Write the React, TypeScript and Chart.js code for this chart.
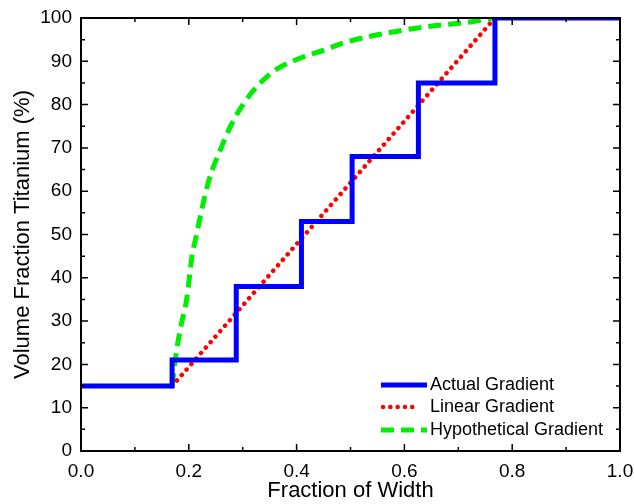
import React, { useEffect, useRef } from "react";
import { Chart, registerables } from "chart.js";

Chart.register(...registerables);

const actualX = [0, 0.169, 0.288, 0.409, 0.503, 0.626, 0.768, 1.0];
const actualY = [15, 21, 38, 53, 68, 85, 100, 100];

const linearX = [0.169, 0.768];
const linearY = [15, 100];

const hypoX = [0.169, 0.176, 0.184, 0.196, 0.206, 0.215, 0.221, 0.2375, 0.261, 0.283, 0.306, 0.335, 0.366, 0.406, 0.451, 0.488, 0.575, 0.643, 0.729, 0.768];
const hypoY = [15, 22, 28, 35, 45, 50.3, 54, 62.6, 70.3, 76.4, 81, 85.3, 88.4, 90.7, 92.6, 94.3, 96.7, 98, 99.2, 100];

const seriesLabels = ["Actual Gradient", "Linear Gradient", "Hypothetical Gradient"];
const xTicks = [0, 0.2, 0.4, 0.6, 0.8, 1.0];
const yTicks = [0, 10, 20, 30, 40, 50, 60, 70, 80, 90, 100];

const FONT = "'Liberation Sans', Arial, sans-serif";

const toPts = (xs: number[], ys: number[]) => xs.map((x, i) => ({ x, y: ys[i] }));

const frameTicks = {
  id: "frameTicks",
  afterDatasetsDraw(chart: any) {
    const { ctx, chartArea: a, scales } = chart;
    const xs = scales.x;
    const ys = scales.y;
    ctx.save();
    ctx.strokeStyle = "#000";
    ctx.lineWidth = 2;
    ctx.lineCap = "butt";
    ctx.strokeRect(a.left, a.top, a.right - a.left, a.bottom - a.top);
    ctx.lineWidth = 1.5;
    for (let i = 0; i < xTicks.length; i++) {
      const v = xTicks[i];
      const px = xs.getPixelForValue(v);
      ctx.beginPath();
      ctx.moveTo(px, a.bottom); ctx.lineTo(px, a.bottom - 7);
      ctx.moveTo(px, a.top); ctx.lineTo(px, a.top + 7);
      ctx.stroke();
      if (i < xTicks.length - 1) {
        const m = xs.getPixelForValue((v + xTicks[i + 1]) / 2);
        ctx.beginPath();
        ctx.moveTo(m, a.bottom); ctx.lineTo(m, a.bottom - 4);
        ctx.moveTo(m, a.top); ctx.lineTo(m, a.top + 4);
        ctx.stroke();
      }
    }
    for (let i = 0; i < yTicks.length; i++) {
      const v = yTicks[i];
      const py = ys.getPixelForValue(v);
      ctx.beginPath();
      ctx.moveTo(a.left, py); ctx.lineTo(a.left + 7, py);
      ctx.moveTo(a.right, py); ctx.lineTo(a.right - 7, py);
      ctx.stroke();
      if (i < yTicks.length - 1) {
        const m = ys.getPixelForValue((v + yTicks[i + 1]) / 2);
        ctx.beginPath();
        ctx.moveTo(a.left, m); ctx.lineTo(a.left + 4, m);
        ctx.moveTo(a.right, m); ctx.lineTo(a.right - 4, m);
        ctx.stroke();
      }
    }
    const rows = [a.bottom - 66, a.bottom - 44, a.bottom - 21];
    const x0 = a.right - 239;
    const x1 = a.right - 193;
    chart.data.datasets.forEach((ds: any, i: number) => {
      const y = rows[i];
      ctx.save();
      ctx.strokeStyle = ds.borderColor;
      ctx.lineWidth = ds.borderWidth;
      ctx.lineCap = ds.borderCapStyle || "butt";
      ctx.setLineDash(ds.borderDash || []);
      ctx.beginPath();
      if (i === 1) {
        ctx.moveTo(x0 + 2, y); ctx.lineTo(x1 - 10, y);
      } else {
        ctx.moveTo(x0, y); ctx.lineTo(x1, y);
      }
      ctx.stroke();
      ctx.restore();
      ctx.fillStyle = "#000";
      ctx.font = `18px ${FONT}`;
      ctx.textBaseline = "middle";
      ctx.textAlign = "left";
      ctx.fillText(ds.label, x1 + 3, y);
    });
    ctx.restore();
  },
};

export default function App() {
  const ref = useRef<HTMLCanvasElement>(null);
  useEffect(() => {
    document.body.style.margin = "0";
    const chart = new Chart(ref.current as HTMLCanvasElement, {
      type: "line",
      data: {
        datasets: [
          {
            label: seriesLabels[0],
            data: toPts(actualX, actualY),
            borderColor: "#0000ff",
            borderWidth: 5,
            stepped: "before",
            pointRadius: 0,
            fill: false,
            borderJoinStyle: "miter",
          },
          {
            label: seriesLabels[1],
            data: toPts(linearX, linearY),
            borderColor: "#ff0000",
            borderWidth: 4.5,
            borderDash: [0.1, 7.2],
            borderCapStyle: "round",
            pointRadius: 0,
            fill: false,
          },
          {
            label: seriesLabels[2],
            data: toPts(hypoX, hypoY),
            borderColor: "#00ee00",
            borderWidth: 5,
            borderDash: [13, 7],
            cubicInterpolationMode: "monotone",
            pointRadius: 0,
            fill: false,
          },
        ] as any,
      },
      options: {
        animation: false,
        responsive: false,
        maintainAspectRatio: false,
        layout: { padding: { top: 0, right: 0, left: 0, bottom: 0 } },
        plugins: { legend: { display: false }, tooltip: { enabled: false } },
        scales: {
          x: {
            type: "linear",
            min: 0,
            max: 1,
            afterBuildTicks: (s: any) => { s.ticks = xTicks.map((v) => ({ value: v })); },
            afterFit: (s: any) => { s.height = 53; s.paddingRight = 14; s.paddingLeft = 0; },
            grid: { display: false, drawTicks: false },
            border: { display: true, color: "#000", width: 2 },
            ticks: {
              color: "#000",
              font: { family: FONT, size: 19 },
              padding: 9,
              maxRotation: 0,
              callback: (v: any) => Number(v).toFixed(1),
            },
            title: {
              display: true,
              text: "Fraction of Width",
              color: "#000",
              font: { family: FONT, size: 22 },
              padding: { top: 0, bottom: 0 },
            },
          },
          y: {
            type: "linear",
            min: 0,
            max: 100,
            afterBuildTicks: (s: any) => { s.ticks = yTicks.map((v) => ({ value: v })); },
            afterFit: (s: any) => { s.width = 81; s.paddingTop = 18; s.paddingBottom = 0; },
            grid: { display: false, drawTicks: false },
            border: { display: true, color: "#000", width: 2 },
            ticks: {
              color: "#000",
              font: { family: FONT, size: 19 },
              padding: 9,
              callback: (v: any) => String(v),
            },
            title: {
              display: true,
              text: "Volume Fraction Titanium (%)",
              color: "#000",
              font: { family: FONT, size: 22 },
              padding: { top: 10, bottom: 0 },
            },
          },
        },
      },
      plugins: [frameTicks],
    });
    return () => chart.destroy();
  }, []);
  return (
    <div style={{ width: 634, height: 504, background: "#fff" }}>
      <canvas ref={ref} width={634} height={504} style={{ display: "block" }} />
    </div>
  );
}
